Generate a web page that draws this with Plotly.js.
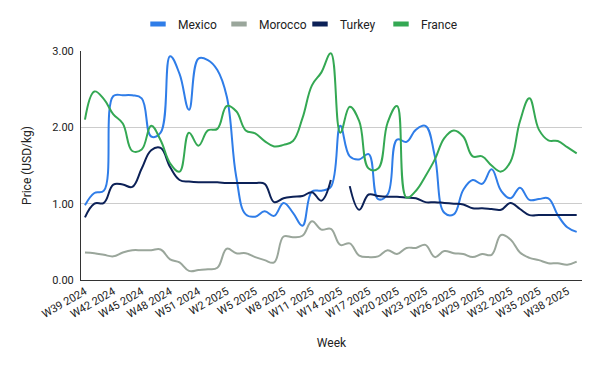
<!DOCTYPE html>
<html>
<head>
<meta charset="utf-8">
<script src="https://cdn.plot.ly/plotly-3.0.1.min.js"></script>
<style>html,body{margin:0;padding:0;background:#fff;}#chart{width:600px;height:371px;}</style>
</head>
<body>
<div id="chart"></div>
<script>
// Week categories: W39 2024 .. W39 2025
const weeks = [];
for (let w = 39; w <= 52; w++) weeks.push('W' + w + ' 2024');
for (let w = 1; w <= 39; w++) weeks.push('W' + w + ' 2025');

const tickWeeks = ['W39 2024','W42 2024','W45 2024','W48 2024','W51 2024','W2 2025','W5 2025','W8 2025','W11 2025','W14 2025','W17 2025','W20 2025','W23 2025','W26 2025','W29 2025','W32 2025','W35 2025','W38 2025'];

const mexico = [0.98,1.14,1.17,2.41,2.42,2.42,2.38,1.88,1.93,2.93,2.70,2.23,2.90,2.88,2.75,2.40,1.35,0.86,0.83,0.90,0.84,1.01,0.88,0.71,1.16,1.17,1.22,2.02,1.62,1.58,1.65,1.06,1.12,1.84,1.81,1.97,2.02,1.62,0.88,0.86,1.18,1.31,1.26,1.45,1.17,1.07,1.21,1.05,1.06,1.07,0.85,0.69,0.63];
const morocco = [0.36,0.35,0.33,0.31,0.36,0.39,0.39,0.39,0.40,0.27,0.23,0.12,0.13,0.14,0.16,0.41,0.35,0.35,0.30,0.26,0.23,0.57,0.56,0.58,0.77,0.66,0.67,0.46,0.48,0.32,0.30,0.31,0.39,0.34,0.42,0.42,0.46,0.30,0.38,0.35,0.34,0.30,0.34,0.33,0.59,0.53,0.36,0.29,0.26,0.22,0.22,0.20,0.24];
const turkey = [0.82,1.00,1.01,1.25,1.25,1.22,1.46,1.70,1.73,1.48,1.31,1.29,1.28,1.28,1.28,1.27,1.27,1.27,1.27,1.26,1.02,1.07,1.09,1.10,1.15,1.04,1.31,null,1.23,0.92,1.12,1.10,1.09,1.09,1.08,1.07,1.02,1.02,1.01,1.00,0.99,0.94,0.94,0.93,0.92,1.01,0.93,0.85,0.85,0.85,0.85,0.85,0.85];
const france = [2.10,2.47,2.37,2.17,2.05,1.69,1.71,2.02,1.83,1.53,1.42,1.93,1.76,1.96,1.98,2.28,2.21,1.96,1.92,1.82,1.75,1.77,1.82,2.12,2.55,2.72,2.97,1.93,2.27,2.08,1.46,1.46,2.06,2.28,1.08,1.17,1.36,1.58,1.86,1.96,1.88,1.62,1.62,1.50,1.42,1.55,2.08,2.38,1.97,1.83,1.82,1.74,1.66];

const seriesNames = ['Mexico','Morocco','Turkey','France'];
const seriesData = [mexico, morocco, turkey, france];
const colors = ['#2f7de8','#9aa69b','#0c2157','#34a853'];

const traces = seriesNames.map((n, k) => ({
  type: 'scatter', mode: 'lines', name: n, x: weeks, y: seriesData[k],
  line: {color: colors[k], width: 2, shape: 'spline', smoothing: 1.15},
  connectgaps: false, showlegend: false
}));
// legend entries (short thick swatches like the reference)
const legendTraces = seriesNames.map((n, k) => ({
  type: 'scatter', mode: 'markers', name: n, x: [weeks[0]], y: [null],
  marker: {symbol: 'line-ew', size: 11, line: {width: 5, color: colors[k]}, color: colors[k]},
  showlegend: true, hoverinfo: 'skip'
}));

const font = 'Roboto, Arial, sans-serif';
const layout = {
  width: 600, height: 371,
  margin: {l: 81, r: 18, t: 51, b: 91},
  paper_bgcolor: '#fff', plot_bgcolor: '#fff',
  font: {family: font, size: 11, color: '#222'},
  showlegend: true,
  legend: {orientation: 'h', xref: 'container', yref: 'container', x: 0.5, xanchor: 'center', y: 0.935, yanchor: 'middle',
           font: {family: font, size: 12, color: '#222'}, itemwidth: 30, traceorder: 'normal',
           entrywidth: 36, entrywidthmode: 'pixels'},
  xaxis: {
    type: 'category', range: [-0.42, 52.56],
    tickmode: 'array', tickvals: tickWeeks, ticktext: tickWeeks,
    tickangle: -30, tickfont: {family: font, size: 11, color: '#222'},
    showgrid: false, showline: true, linecolor: '#333', linewidth: 1, ticks: '',
    zeroline: false,
    title: {text: 'Week', font: {family: font, size: 12, color: '#222'}, standoff: 18}
  },
  yaxis: {
    range: [0, 3], tickmode: 'array', tickvals: [0, 1, 2, 3], tickformat: '.2f',
    tickfont: {family: font, size: 11, color: '#222'},
    showgrid: true, gridcolor: '#cccccc', gridwidth: 1,
    showline: true, linecolor: '#333', linewidth: 1, zeroline: false, ticks: '',
    ticklabelstandoff: 4,
    title: {text: 'Price (USD/kg)', font: {family: font, size: 12, color: '#222'}, standoff: 18}
  }
};

Plotly.newPlot('chart', traces.concat(legendTraces), layout, {displayModeBar: false, staticPlot: true});
</script>
</body>
</html>
